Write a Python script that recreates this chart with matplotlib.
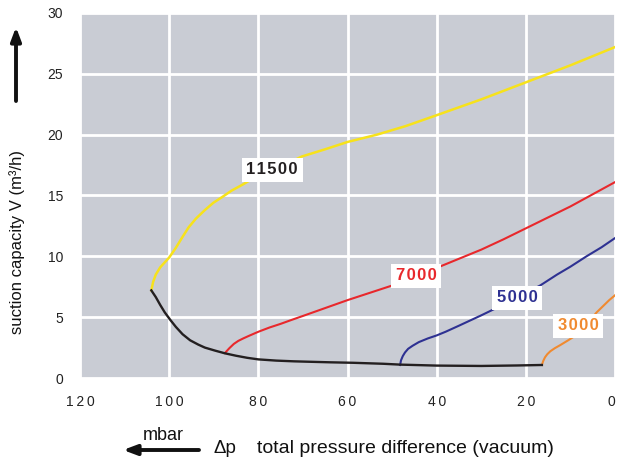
import matplotlib
matplotlib.use("Agg")
import matplotlib.pyplot as plt

plt.rcParams['font.family'] = ['Liberation Sans', 'DejaVu Sans']

# Data (pressure difference in mbar, suction capacity in m3/h)
x_11500 = [104, 103.6, 103, 102, 101, 100, 98.5, 97, 95.6, 94, 92, 90.1, 88, 86, 83.5, 81.2, 78, 76, 73, 70.3,
           65, 60, 53.4, 47, 40, 30, 20, 10, 0]
y_11500 = [7.2, 7.9, 8.5, 9.1, 9.5, 9.9, 10.7, 11.6, 12.4, 13.1, 13.8, 14.4, 14.9, 15.4, 15.9, 16.4, 16.9, 17.2, 17.7, 18.2,
           18.8, 19.4, 20.0, 20.7, 21.6, 22.9, 24.3, 25.7, 27.2]

x_7000 = [87.5, 86.5, 85.5, 84.5, 83.4, 82.2, 80, 77.5, 75, 72.5, 70, 65, 60, 55, 50, 45, 40, 35, 30, 25, 20, 15,
          10, 5, 0]
y_7000 = [2.05, 2.45, 2.8, 3.05, 3.25, 3.45, 3.8, 4.15, 4.45, 4.78, 5.1, 5.75, 6.4, 7.0, 7.6, 8.3, 9.05, 9.8,
          10.55, 11.4, 12.3, 13.2, 14.1, 15.1, 16.1]

x_5000 = [48.2, 48.0, 47.6, 47.1, 46.4, 45.4, 44.0, 42.0, 40, 38, 35, 30, 26.9, 23, 20, 16.8, 13, 10, 6.4, 3, 0]
y_5000 = [1.07, 1.45, 1.8, 2.1, 2.4, 2.65, 2.95, 3.25, 3.5, 3.8, 4.3, 5.15, 5.7, 6.35, 7.0, 7.6, 8.5, 9.15, 10.0,
          10.75, 11.5]

x_3000 = [16.4, 16.1, 15.7, 15.2, 14.5, 13.5, 12.3, 10.5, 8.8, 7.0, 5.5, 4.1, 2.7, 1.3, 0]
y_3000 = [1.07, 1.4, 1.7, 1.95, 2.2, 2.45, 2.7, 3.1, 3.5, 4.1, 4.8, 5.4, 5.9, 6.4, 6.8]

x_limit = [104, 103, 102, 101, 99.8, 98.5, 97, 95.3, 93.5, 92, 89.7, 87.5, 85, 82.5, 80, 76, 72,
           68, 63.9, 58.7, 52, 48.2, 40, 30, 22, 16.4]
y_limit = [7.2, 6.65, 6.0, 5.4, 4.8, 4.2, 3.6, 3.1, 2.75, 2.5, 2.25, 2.03, 1.83, 1.66, 1.53, 1.43, 1.37,
           1.33, 1.29, 1.25, 1.17, 1.1, 1.02, 0.99, 1.03, 1.07]

x_ticks = [120, 100, 80, 60, 40, 20, 0]
y_ticks = [0, 5, 10, 15, 20, 25, 30]

labels = ["11500", "7000", "5000", "3000"]
label_x = [76.9, 44.6, 22.0, 8.3]
label_y = [17.1, 8.4, 6.6, 4.3]

c_yellow = "#f7e21b"
c_red = "#e8282c"
c_blue = "#2e3192"
c_orange = "#f08a30"
c_black = "#231f20"
label_colors = ["#231f20", c_red, c_blue, c_orange]

fig = plt.figure(figsize=(6.17, 4.61), dpi=100)
ax = fig.add_axes([80/617, 1-378/461, 535/617, 365/461])
ax.set_facecolor("#c9ccd4")
for s in ax.spines.values():
    s.set_visible(False)

ax.set_xlim(120, 0)
ax.set_ylim(0, 30)
ax.set_xticks(x_ticks)
ax.set_yticks(y_ticks)
xt = ax.set_xticklabels(["\u2009".join(str(t)) for t in x_ticks], fontsize=10, color="#222222")
xt[-1].set_horizontalalignment('right')
ax.set_yticklabels([str(t) for t in y_ticks], fontsize=10, color="#222222")
ax.tick_params(axis='x', length=0, pad=12)
ax.tick_params(axis='y', length=0, pad=12)
ax.grid(True, color="white", linewidth=2)
ax.set_axisbelow(True)

ax.plot(x_11500, y_11500, color=c_yellow, lw=1.8, solid_joinstyle='round')
ax.plot(x_7000, y_7000, color=c_red, lw=1.5, solid_joinstyle='round')
ax.plot(x_5000, y_5000, color=c_blue, lw=1.5, solid_joinstyle='round')
ax.plot(x_3000, y_3000, color=c_orange, lw=1.5, solid_joinstyle='round')
ax.plot(x_limit, y_limit, color=c_black, lw=1.7, solid_joinstyle='round')

for t, lx, ly, col in zip(labels, label_x, label_y, label_colors):
    ax.text(lx, ly, "\u200a".join(t), color=col, fontsize=12, fontweight='bold',
            ha='center', va='center',
            bbox=dict(boxstyle='square,pad=0.28', facecolor='white', edgecolor='none'),
            zorder=5)

# y-axis label and arrow
fig.text(17/617, 1-242/461, "suction capacity V (m³/h)", rotation=90, fontsize=12,
         ha='center', va='center', color="#111111")
ax.annotate("", xy=(16/617, 1-27/461), xytext=(16/617, 1-101/461), xycoords='figure fraction',
            textcoords='figure fraction',
            arrowprops=dict(arrowstyle='-|>,head_length=0.8,head_width=0.3', lw=2.8,
                            color="#111111", shrinkA=0, shrinkB=0))

# x-axis label and arrow
fig.text(213/617, 1-448/461, "Δp", fontsize=13.5, ha='left', va='center', color="#111111")
fig.text(257/617, 1-448/461, "total pressure difference (vacuum)", fontsize=14,
         ha='left', va='center', color="#111111")
fig.text(163/617, 1-435/461, "mbar", fontsize=13, ha='center', va='center', color="#111111")
ax.annotate("", xy=(123/617, 1-450/461), xytext=(199/617, 1-450/461), xycoords='figure fraction',
            textcoords='figure fraction',
            arrowprops=dict(arrowstyle='-|>,head_length=0.8,head_width=0.3', lw=2.8,
                            color="#111111", shrinkA=0, shrinkB=0))

fig.savefig("out.png", dpi=100)
